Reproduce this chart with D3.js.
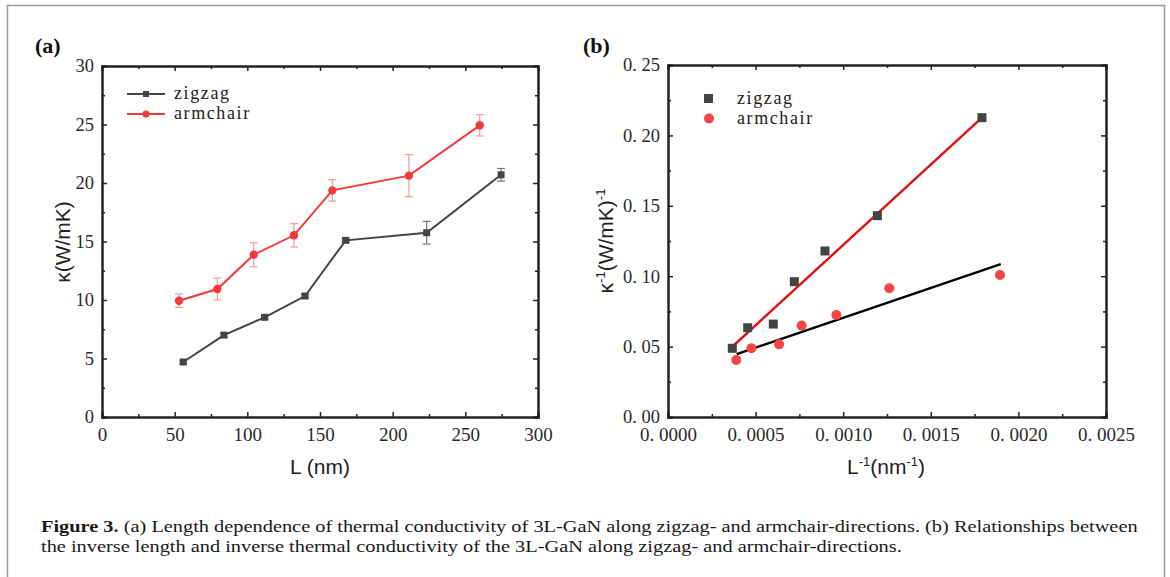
<!DOCTYPE html>
<html>
<head>
<meta charset="utf-8">
<script src="https://cdn.jsdelivr.net/npm/d3@7"></script>
<style>
  body { margin: 0; background: #fff; }
  svg { display: block; }
</style>
</head>
<body>
<svg id="fig" width="1170" height="577"></svg>
<script>
// panel (a): kappa vs L
var zzL = [55.9, 83.9, 111.9, 139.7, 167.7, 223.4, 274.6];
var zzK = [4.70, 7.00, 8.52, 10.34, 15.10, 15.75, 20.70];
var zzErr = [0.15, 0.15, 0.15, 0.15, 0.15, 0.97, 0.54];

var acL = [53.0, 79.4, 104.4, 132.1, 158.5, 211.2, 259.9];
var acK = [9.94, 10.94, 13.87, 15.53, 19.37, 20.63, 24.93];
var acErr = [0.57, 0.93, 1.03, 1.00, 0.91, 1.80, 0.91];

// panel (b): inverse kappa vs inverse L
var zzInvL = [0.000367, 0.000455, 0.000601, 0.000721, 0.000896, 0.001195, 0.001792];
var zzInvK = [0.0488, 0.0634, 0.0660, 0.0961, 0.1179, 0.1430, 0.2126];
var acInvL = [0.000390, 0.000476, 0.000634, 0.000763, 0.000961, 0.001263, 0.001895];
var acInvK = [0.0405, 0.0488, 0.0516, 0.0649, 0.0724, 0.0914, 0.1009];

// fitted lines, end points
var zzFit = [[0.000367, 0.0499], [0.001792, 0.2126]];
var acFit = [[0.000392, 0.0447], [0.001899, 0.1085]];

var xTicksA = [0, 50, 100, 150, 200, 250, 300];
var yTicksA = [0, 5, 10, 15, 20, 25, 30];
var xTicksB = [0, 0.0005, 0.0010, 0.0015, 0.0020, 0.0025];
var yTicksB = [0, 0.05, 0.10, 0.15, 0.20, 0.25];

var svg = d3.select("#fig");
var axisCol = "#222";
var textCol = "#2a2a2a";
var grey = "#444";
var red = "#f23a3a";
var serif = "'Liberation Serif', 'Times New Roman', serif";

// outer frame
svg.append("path")
  .attr("d", "M7.5,600 V5.5 H1164.5 V600")
  .attr("fill", "none")
  .attr("stroke", "#9a9a9a")
  .attr("stroke-width", 1.5);

function midpoints(t) {
  var m = [];
  for (var i = 0; i < t.length - 1; i++) m.push((t[i] + t[i + 1]) / 2);
  return m;
}

function drawFrame(g, x, y, xt, yt, xfmt, yfmt) {
  var w = x.range()[1], h = y.range()[0];
  var xmin = midpoints(xt), ymin = midpoints(yt);

  var xb = g.append("g").attr("transform", `translate(0,${h})`)
    .call(d3.axisBottom(x).tickValues(xt).tickSize(-5).tickPadding(11).tickFormat(xfmt));
  g.append("g").attr("transform", `translate(0,${h})`)
    .call(d3.axisBottom(x).tickValues(xmin).tickSize(-3).tickFormat(""));
  g.append("g")
    .call(d3.axisTop(x).tickValues(xt).tickSize(-5).tickFormat(""));
  g.append("g")
    .call(d3.axisTop(x).tickValues(xmin).tickSize(-3).tickFormat(""));

  var yl = g.append("g")
    .call(d3.axisLeft(y).tickValues(yt).tickSize(-5).tickPadding(8).tickFormat(yfmt));
  g.append("g")
    .call(d3.axisLeft(y).tickValues(ymin).tickSize(-3).tickFormat(""));
  g.append("g").attr("transform", `translate(${w},0)`)
    .call(d3.axisRight(y).tickValues(yt).tickSize(-5).tickFormat(""));
  g.append("g").attr("transform", `translate(${w},0)`)
    .call(d3.axisRight(y).tickValues(ymin).tickSize(-3).tickFormat(""));

  g.selectAll(".domain").attr("stroke", axisCol).attr("stroke-width", 2);
  g.selectAll(".tick line").attr("stroke", axisCol).attr("stroke-width", 1.5);
  g.selectAll(".tick text")
    .attr("fill", textCol)
    .style("font-family", serif);
  xb.selectAll(".tick text").style("font-size", "19px");
  yl.selectAll(".tick text").style("font-size", "18.5px");
}

// ---------- panel (a)
var ga = svg.append("g").attr("transform", "translate(102,66)");
var xa = d3.scaleLinear().domain([0, 300]).range([0, 436]);
var ya = d3.scaleLinear().domain([0, 30]).range([351, 0]);
drawFrame(ga, xa, ya, xTicksA, yTicksA, d3.format("d"), d3.format("d"));

var lineA = d3.line().x(d => xa(d[0])).y(d => ya(d[1]));

function errBars(g, xs, ys, es, col) {
  var eb = g.append("g").attr("stroke", col).attr("stroke-width", 1.2);
  xs.forEach(function (v, i) {
    var cx = xa(v), y0 = ya(ys[i] - es[i]), y1 = ya(ys[i] + es[i]);
    eb.append("line").attr("x1", cx).attr("x2", cx).attr("y1", y0).attr("y2", y1);
    eb.append("line").attr("x1", cx - 4).attr("x2", cx + 4).attr("y1", y0).attr("y2", y0);
    eb.append("line").attr("x1", cx - 4).attr("x2", cx + 4).attr("y1", y1).attr("y2", y1);
  });
}

errBars(ga, zzL, zzK, zzErr, "#777");
errBars(ga, acL, acK, acErr, "#f29a9a");

ga.append("path")
  .datum(zzL.map((v, i) => [v, zzK[i]]))
  .attr("d", lineA).attr("fill", "none").attr("stroke", grey).attr("stroke-width", 2);
ga.append("path")
  .datum(acL.map((v, i) => [v, acK[i]]))
  .attr("d", lineA).attr("fill", "none").attr("stroke", red).attr("stroke-width", 2);

ga.selectAll(".zzpt").data(zzL).join("rect")
  .attr("x", (d) => xa(d) - 3.5).attr("y", (d, i) => ya(zzK[i]) - 3.5)
  .attr("width", 7).attr("height", 7).attr("fill", grey);
ga.selectAll(".acpt").data(acL).join("circle")
  .attr("cx", d => xa(d)).attr("cy", (d, i) => ya(acK[i])).attr("r", 4.2)
  .attr("fill", red);

// legend (a)
var la = svg.append("g");
[["zigzag", grey, "sq", 94], ["armchair", red, "ci", 114]].forEach(function (r) {
  la.append("line").attr("x1", 127).attr("x2", 165).attr("y1", r[3]).attr("y2", r[3])
    .attr("stroke", r[1]).attr("stroke-width", 2);
  if (r[2] == "sq")
    la.append("rect").attr("x", 143).attr("y", r[3] - 3).attr("width", 6).attr("height", 6).attr("fill", r[1]);
  else
    la.append("circle").attr("cx", 146).attr("cy", r[3]).attr("r", 3.6).attr("fill", r[1]);
  la.append("text").attr("x", 174).attr("y", r[3] + 5).text(r[0])
    .attr("fill", "#222").style("font-family", serif).style("font-size", "18px")
    .style("letter-spacing", "1.6px");
});

// ---------- panel (b)
var gb = svg.append("g").attr("transform", "translate(668,65)");
var xb = d3.scaleLinear().domain([0, 0.0025]).range([0, 438]);
var yb = d3.scaleLinear().domain([0, 0.25]).range([352, 0]);
drawFrame(gb, xb, yb, xTicksB, yTicksB,
  d => d3.format(".4f")(d).replace(".", ". "),
  d => d3.format(".2f")(d).replace(".", ". "));

var lineB = d3.line().x(d => xb(d[0])).y(d => yb(d[1]));
gb.append("path").datum(zzFit).attr("d", lineB)
  .attr("stroke", "#e01010").attr("stroke-width", 2.4).attr("fill", "none");
gb.append("path").datum(acFit).attr("d", lineB)
  .attr("stroke", "#000").attr("stroke-width", 2.4).attr("fill", "none");

gb.selectAll(".zzb").data(zzInvL).join("rect")
  .attr("x", d => xb(d) - 4.5).attr("y", (d, i) => yb(zzInvK[i]) - 4.5)
  .attr("width", 9).attr("height", 9).attr("fill", grey);
gb.selectAll(".acb").data(acInvL).join("circle")
  .attr("cx", d => xb(d)).attr("cy", (d, i) => yb(acInvK[i])).attr("r", 5)
  .attr("fill", "#f64545");

// legend (b)
var lb = svg.append("g");
lb.append("rect").attr("x", 704).attr("y", 94).attr("width", 9).attr("height", 9).attr("fill", grey);
lb.append("circle").attr("cx", 709).attr("cy", 118.5).attr("r", 5).attr("fill", "#f64545");
[["zigzag", 103.5], ["armchair", 123.5]].forEach(function (r) {
  lb.append("text").attr("x", 737).attr("y", r[1]).text(r[0])
    .attr("fill", "#222").style("font-family", serif).style("font-size", "18px")
    .style("letter-spacing", "1.6px");
});

// ---------- axis titles
var sans = "'Liberation Sans', Arial, sans-serif";
function title(x, y, rot) {
  return svg.append("text")
    .attr("transform", `translate(${x},${y}) rotate(${rot})`)
    .attr("text-anchor", "middle")
    .attr("fill", "#222")
    .style("font-family", sans).style("font-size", "21px");
}
title(320, 474, 0).text("L (nm)");
title(70, 242, -90).text("κ(W/mK)");

var tb = title(886, 474, 0);
tb.append("tspan").text("L");
tb.append("tspan").attr("dy", -8).style("font-size", "13px").text("-1");
tb.append("tspan").attr("dy", 8).text("(nm");
tb.append("tspan").attr("dy", -8).style("font-size", "13px").text("-1");
tb.append("tspan").attr("dy", 8).text(")");

var tl = title(613, 241, -90);
tl.append("tspan").text("κ");
tl.append("tspan").attr("dy", -8).style("font-size", "13px").text("-1");
tl.append("tspan").attr("dy", 8).text("(W/mK)");
tl.append("tspan").attr("dy", -8).style("font-size", "13px").text("-1");

// panel letters
[["(a)", 35], ["(b)", 583]].forEach(function (p) {
  svg.append("text").attr("x", p[1]).attr("y", 53).text(p[0])
    .attr("fill", "#111")
    .style("font-family", serif).style("font-weight", "bold")
    .style("font-size", "22px");
});

// ---------- caption
var capLines = [
  [["Figure 3.", true], [" (a) Length dependence of thermal conductivity of 3L-GaN along zigzag- and armchair-directions. (b) Relationships between", false]],
  [["the inverse length and inverse thermal conductivity of the 3L-GaN along zigzag- and armchair-directions.", false]]
];
var capNodes = capLines.map(function (ln) {
  var t = svg.append("text").attr("x", 0).attr("y", 0)
    .attr("fill", "#1a1a1a")
    .style("font-family", serif).style("font-size", "16.5px");
  ln.forEach(function (s) {
    t.append("tspan").text(s[0]).style("font-weight", s[1] ? "bold" : "normal");
  });
  return t;
});
var k = (1139 - 41) / capNodes[0].node().getComputedTextLength();
capNodes.forEach(function (t, i) {
  t.attr("transform", `translate(41,${532 + i * 20}) scale(${k},1)`);
});
</script>
</body>
</html>
